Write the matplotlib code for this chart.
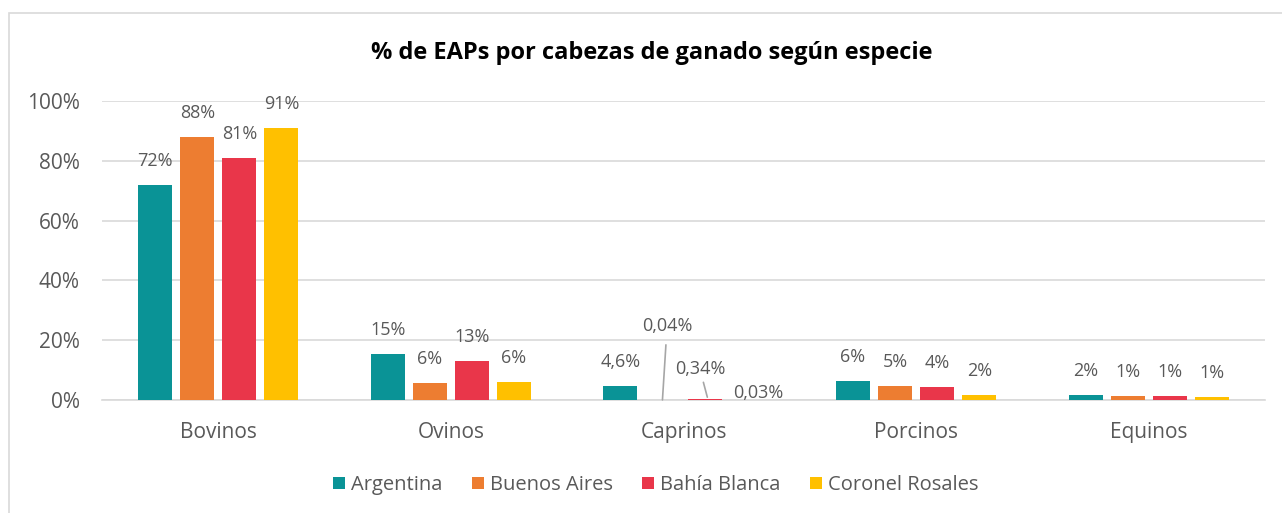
import numpy as np
import matplotlib
matplotlib.use('Agg')
import matplotlib.pyplot as plt
from matplotlib.patches import Rectangle

plt.rcParams['font.family'] = ['Open Sans', 'DejaVu Sans']

especies = ['Bovinos', 'Ovinos', 'Caprinos', 'Porcinos', 'Equinos']
regiones = ['Argentina', 'Buenos Aires', 'Bahía Blanca', 'Coronel Rosales']

argentina = [0.72, 0.153, 0.046, 0.063, 0.017]
buenos_aires = [0.88, 0.057, 0.0004, 0.047, 0.013]
bahia_blanca = [0.81, 0.13, 0.0034, 0.043, 0.012]
coronel_rosales = [0.91, 0.06, 0.0003, 0.017, 0.009]

etiquetas = [
    ['72%', '15%', '4,6%', '6%', '2%'],
    ['88%', '6%', '0,04%', '5%', '1%'],
    ['81%', '13%', '0,34%', '4%', '1%'],
    ['91%', '6%', '0,03%', '2%', '1%'],
]

colores = ['#0A9396', '#ED7D31', '#E9364A', '#FFC000']
gris = '#595959'

series = [argentina, buenos_aires, bahia_blanca, coronel_rosales]

fig = plt.figure(figsize=(12.82, 5.13), dpi=100)
fig.patches.append(Rectangle((9 / 1282, -0.1), 1.2, 1 - 13 / 513 + 0.1,
                             transform=fig.transFigure, fill=False,
                             edgecolor='#D9D9D9', linewidth=1.2))
ax = fig.add_axes([102 / 1282, 1 - 400 / 513, 1163 / 1282, 299 / 513])

x = np.arange(len(especies))
ancho = 0.146
paso = 0.181

for i, (vals, col) in enumerate(zip(series, colores)):
    pos = x + (i - 1.5) * paso
    ax.bar(pos, vals, width=ancho, color=col, label=regiones[i], zorder=3)
    for j, (xp, v) in enumerate(zip(pos, vals)):
        if especies[j] == 'Caprinos' and i > 0:
            continue
        ax.text(xp, v + 0.08, etiquetas[i][j], ha='center', va='center',
                fontsize=13, color=gris)

# etiquetas de Caprinos desplazadas (con lineas guia)
cap = especies.index('Caprinos')
pos_cap = x[cap] + (np.arange(4) - 1.5) * paso
ax.annotate(etiquetas[1][cap], xy=(pos_cap[1], buenos_aires[cap]),
            xytext=(pos_cap[1] + 0.02, 0.247), ha='center', va='center',
            fontsize=13, color=gris,
            arrowprops=dict(arrowstyle='-', color='#A6A6A6', lw=1.2,
                            shrinkA=5, shrinkB=0))
ax.annotate(etiquetas[2][cap], xy=(pos_cap[2] + 0.012, bahia_blanca[cap] + 0.006),
            xytext=(pos_cap[2] - 0.02, 0.103), ha='center', va='center',
            fontsize=13, color=gris,
            arrowprops=dict(arrowstyle='-', color='#A6A6A6', lw=1.2,
                            shrinkA=1, shrinkB=0))
ax.text(pos_cap[3] + 0.05, 0.023, etiquetas[3][cap], ha='center', va='center',
        fontsize=13, color=gris)

ax.set_xlim(-0.5, len(especies) - 0.5)
ax.set_ylim(0, 1)
ax.set_yticks(np.arange(0, 1.01, 0.2))
ax.set_yticklabels([f'{int(round(t * 100))}%' for t in np.arange(0, 1.01, 0.2)])
ax.set_xticks(x)
ax.set_xticklabels(especies)
ax.tick_params(axis='both', length=0, labelsize=15, labelcolor=gris)
ax.tick_params(axis='x', pad=16)
ax.tick_params(axis='y', pad=16)
ax.grid(axis='y', color='#D9D9D9', linewidth=1.2, zorder=0)
for s in ['top', 'right', 'left']:
    ax.spines[s].set_visible(False)
ax.spines['bottom'].set_color('#D9D9D9')
ax.spines['bottom'].set_linewidth(1.2)

fig.text(652 / 1282, 1 - 53 / 513, '% de EAPs por cabezas de ganado según especie',
         ha='center', va='center', fontsize=17, fontweight='bold', color='black')

ax.legend(loc='center', bbox_to_anchor=((656 - 102) / 1163, (400 - 485) / 299), ncol=4,
          frameon=False, fontsize=14.5, labelcolor=gris, handlelength=0.6,
          handleheight=0.6, handletextpad=0.3, columnspacing=1.45)

fig.savefig('out.png', dpi=100)
